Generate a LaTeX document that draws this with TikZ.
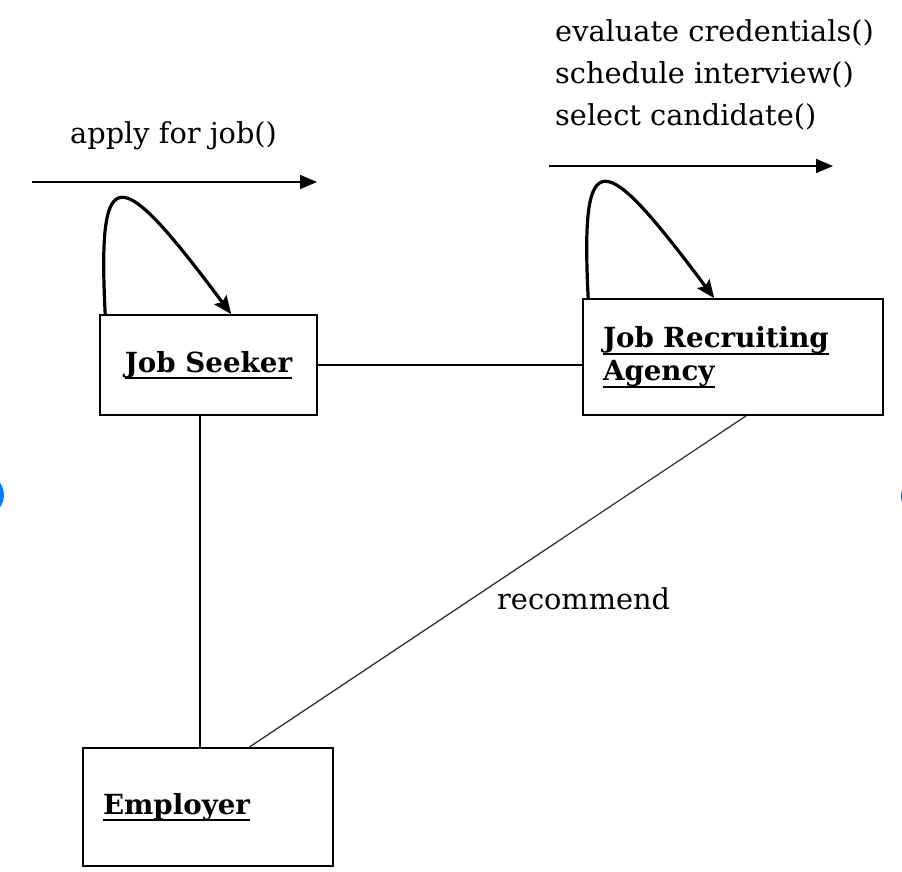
\documentclass[tikz,border=0pt]{standalone}
\usepackage{fontspec}
\setmainfont{DejaVu Serif}
\usetikzlibrary{arrows.meta,calc}
\definecolor{handleblue}{RGB}{16,120,255}
\newcommand\objul[1]{\leavevmode\mbox{\setbox0=\hbox{#1}\rlap{\copy0}\rule[-7pt]{\wd0}{1.7pt}}}
\begin{document}
\begin{tikzpicture}[x=1pt,y=-1pt,
  objbox/.style={draw, line width=1.6pt, inner xsep=20pt, inner ysep=0pt, align=left,
    font=\fontsize{27.7}{33}\selectfont\bfseries},
  msg/.style={font=\fontsize{28.8}{34}\selectfont, inner sep=0pt, anchor=base west},
  link/.style={line width=1.5pt},
  diaglink/.style={line width=1.3pt, black!80},
  selfloop/.style={line width=3.2pt, -{Stealth[length=18pt,width=15pt,inset=3pt]}},
  msgarrow/.style={line width=1.6pt, -{Triangle[length=17pt,width=14pt]}},
  handle/.style={fill=handleblue},
]
\useasboundingbox (0,0) rectangle (902,872);
\begin{scope}
  \clip (0,0) rectangle (902,872);
  \fill[handle] (-17,495) circle (21);
  \fill[handle] (922,496) circle (21);
\end{scope}

% objects
\node[objbox, minimum width=217pt, minimum height=100pt, inner xsep=0pt, align=center]
  (js) at (208.5,365) {\objul{Job Seeker}};
\node[objbox, text width=260pt, minimum height=116pt]
  (ag) at (733,357) {\objul{Job Recruiting}\\\objul{Agency}};
\node[objbox, text width=210pt, minimum height=118pt]
  (emp) at (208,807) {\raisebox{-6pt}{\objul{Employer}}};

% links
\draw[link] (js.east) -- (js.east -| ag.west);
\coordinate (jsb) at ($(js.south)+(-8.5,0)$);
\draw[link] (jsb) -- (jsb |- emp.north);
\coordinate (agb) at ($(ag.south west)+(164,0)$);
\coordinate (empt) at ($(emp.north west)+(167,0)$);
\draw[diaglink] (agb) -- (empt);
\node[msg] (rec) at (497,609) {recommend};

% self loops
\coordinate (js1) at ($(js.north west)+(6,0)$);
\coordinate (js2) at ($(js.north west)+(132,0)$);
\draw[selfloop] (js1) .. controls ($(js1)+(-8,-158)$) and ($(js2)+(-112,-150)$) .. (js2);
\coordinate (ag1) at ($(ag.north west)+(6,0)$);
\coordinate (ag2) at ($(ag.north west)+(132,0)$);
\draw[selfloop] (ag1) .. controls ($(ag1)+(-8,-158)$) and ($(ag2)+(-112,-150)$) .. (ag2);

% messages
\coordinate (m1a) at (32,182);
\coordinate (m1b) at (317,182);
\draw[msgarrow] (m1a) -- (m1b);
\node[msg] (m1) at (70,143) {apply for job()};
\coordinate (m2a) at (549,166);
\coordinate (m2b) at (833,166);
\draw[msgarrow] (m2a) -- (m2b);
\node[msg] (m2) at (555,42) {evaluate credentials()};
\node[msg] (m3) at (555,84) {schedule interview()};
\node[msg] (m4) at (555,125) {select candidate()};
\end{tikzpicture}
\end{document}
